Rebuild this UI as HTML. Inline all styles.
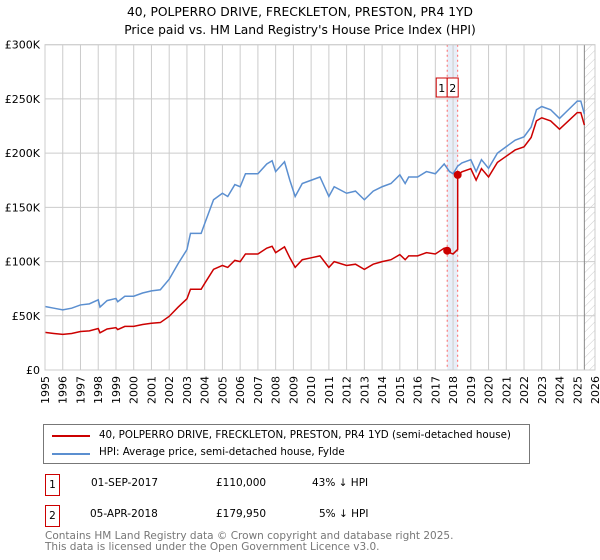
<!DOCTYPE html>
<html><head><meta charset="utf-8"><style>
body{margin:0;background:#fff;font-family:"DejaVu Sans","Liberation Sans",sans-serif;}
#wrap{position:relative;width:600px;height:560px;overflow:hidden}
.t{position:absolute;font-size:11px;color:#000;white-space:nowrap}
</style></head><body>
<div id="wrap">
<svg id="svg" width="600" height="560" style="position:absolute;left:0;top:0">
<defs><pattern id="hatch" width="6" height="6" patternUnits="userSpaceOnUse" patternTransform="rotate(45)"><line x1="0" y1="0" x2="0" y2="6" stroke="#ccc" stroke-width="1"/></pattern></defs>
<text x="300" y="16" text-anchor="middle" font-size="12.3" font-family="DejaVu Sans, sans-serif">40, POLPERRO DRIVE, FRECKLETON, PRESTON, PR4 1YD</text>
<text x="300" y="34" text-anchor="middle" font-size="12.3" font-family="DejaVu Sans, sans-serif">Price paid vs. HM Land Registry's House Price Index (HPI)</text>
<g id="plot"></g>
</svg>
<div style="position:absolute;left:43px;top:424px;width:485px;height:38px;border:1px solid #777">
 <div style="position:absolute;left:8px;top:10px;width:38px;height:2px;background:#cc0000"></div>
 <div class="t" style="left:55px;top:4px;font-size:10.3px">40, POLPERRO DRIVE, FRECKLETON, PRESTON, PR4 1YD (semi-detached house)</div>
 <div style="position:absolute;left:8px;top:28px;width:38px;height:2px;background:#5b8fd0"></div>
 <div class="t" style="left:55px;top:21px;font-size:10.3px">HPI: Average price, semi-detached house, Fylde</div>
</div>
<div style="position:absolute;left:45px;top:474px;width:13px;height:20px;border:1px solid #cc0000;font-size:10.5px;text-align:center;line-height:20px">1</div>
<div class="t" style="left:91px;top:477px;font-size:10.5px">01-SEP-2017</div>
<div class="t" style="left:216px;top:477px;font-size:10.5px">£110,000</div>
<div class="t" style="left:312px;top:477px;font-size:10.5px">43% ↓ HPI</div>
<div style="position:absolute;left:45px;top:505px;width:13px;height:20px;border:1px solid #cc0000;font-size:10.5px;text-align:center;line-height:20px">2</div>
<div class="t" style="left:90px;top:508px;font-size:10.5px">05-APR-2018</div>
<div class="t" style="left:216px;top:508px;font-size:10.5px">£179,950</div>
<div class="t" style="left:319px;top:508px;font-size:10.5px">5% ↓ HPI</div>
<div class="t" style="left:45px;top:531px;font-size:10.5px;color:#777;line-height:11px">Contains HM Land Registry data © Crown copyright and database right 2025.<br>This data is licensed under the Open Government Licence v3.0.</div>
</div>
<script>
const hpiYears=[1995,1995.5,1996,1996.5,1997,1997.5,1998,1998.1,1998.5,1999,1999.1,1999.5,2000,2000.5,2001,2001.5,2002,2002.5,2003,2003.2,2003.8,2004,2004.5,2005,2005.3,2005.7,2006,2006.3,2007,2007.5,2007.8,2008,2008.5,2008.8,2009.1,2009.3,2009.5,2010,2010.5,2011,2011.3,2012,2012.5,2013,2013.5,2014,2014.5,2015,2015.3,2015.5,2016,2016.5,2017,2017.5,2017.8,2018,2018.26,2018.5,2019,2019.3,2019.6,2020,2020.5,2021,2021.5,2022,2022.4,2022.7,2023,2023.5,2024,2024.5,2025,2025.2,2025.4];
const hpiValues=[58.6,57,55.5,57,60,61,64.7,58,64,66,63,68,68,71,73,74,83.7,98,111,126,126,135,157,163,160,171,169,181,181,190,193,183,192,175,160,166,172,175,178,160,169,163,165,157,165,169,172,180,172,178,178,183,181,190,183,181,188,191,194,183,194,186,200,206,212,215,224,240,243,240,232,240,248,248,236];
const sales=[{year:2017.67,price:110},{year:2018.26,price:179.95}];
const yTicks=[0,50,100,150,200,250,300];
const yTickLabels=['£0','£50K','£100K','£150K','£200K','£250K','£300K'];
const xTicks=[1995,1996,1997,1998,1999,2000,2001,2002,2003,2004,2005,2006,2007,2008,2009,2010,2011,2012,2013,2014,2015,2016,2017,2018,2019,2020,2021,2022,2023,2024,2025,2026];
const X0=45,X1=595,Y0=370,Y1=44.7;
const xS=y=>X0+(y-1995)/(2026-1995)*(X1-X0);
const yS=v=>Y0-(v/300)*(Y0-Y1);
const g=document.getElementById('plot');const NS='http://www.w3.org/2000/svg';
function mk(t,a,p){const e=document.createElementNS(NS,t);for(const k in a)e.setAttribute(k,a[k]);(p||g).appendChild(e);return e;}
function hpiAt(y){for(let i=0;i<hpiYears.length-1;i++){if(y>=hpiYears[i]&&y<=hpiYears[i+1]){const f=(y-hpiYears[i])/(hpiYears[i+1]-hpiYears[i]);return hpiValues[i]+f*(hpiValues[i+1]-hpiValues[i]);}}return hpiValues[hpiValues.length-1];}
let e;
e=mk('rect',{x:xS(2025.4),y:Y1,width:X1-xS(2025.4),height:Y0-Y1,fill:'url(#hatch)'});

e=mk('rect',{x:xS(sales[0].year),y:Y1,width:xS(sales[1].year)-xS(sales[0].year),height:Y0-Y1,fill:'#e8eef8'});

xTicks.forEach(t=>{const l=mk('line',{x1:xS(t),x2:xS(t),y1:Y1,y2:Y0,stroke:'#ccc'});
const tx=mk('text',{x:0,y:0,transform:`translate(${xS(t)+4},${Y0+6}) rotate(-90)`,'text-anchor':'end','font-size':'11','font-family':'DejaVu Sans, sans-serif'});tx.textContent=t;});
yTicks.forEach((t,i)=>{const l=mk('line',{x1:X0,x2:X1,y1:yS(t),y2:yS(t),stroke:'#ccc'});
const tx=mk('text',{x:X0-5,y:yS(t)+4,'text-anchor':'end','font-size':'11','font-family':'DejaVu Sans, sans-serif'});tx.textContent=yTickLabels[i];});
e=mk('line',{x1:xS(2025.4),x2:xS(2025.4),y1:Y1,y2:Y0,stroke:'#888'});
sales.forEach(s=>{const l=mk('line',{x1:xS(s.year),x2:xS(s.year),y1:Y1,y2:Y0,stroke:'#ff6666','stroke-dasharray':'2,3'});});
e=mk('polyline',{points:hpiYears.map((y,i)=>xS(y)+','+yS(hpiValues[i])).join(' '),fill:'none',stroke:'#5b8fd0','stroke-width':1.5});

const r1=sales[0].price/hpiAt(sales[0].year),r2=sales[1].price/hpiAt(sales[1].year);
const pts=[];
hpiYears.forEach((y,i)=>{if(y<sales[1].year)pts.push([y,hpiValues[i]*r1]);});
pts.push([sales[1].year,hpiAt(sales[1].year)*r1]);pts.push([sales[1].year,sales[1].price]);
hpiYears.forEach((y,i)=>{if(y>sales[1].year)pts.push([y,hpiValues[i]*r2]);});
pts.sort((a,b)=>a[0]-b[0]);
e=mk('polyline',{points:pts.map(p=>xS(p[0])+','+yS(p[1])).join(' '),fill:'none',stroke:'#cc0000','stroke-width':1.5});

sales.forEach((s,i)=>{const c=mk('circle',{cx:xS(s.year),cy:yS(s.price),r:4,fill:'#cc0000'});
const bx=xS(sales[0].year)+(i==0?-11:0);const r=mk('rect',{x:bx,y:78,width:11,height:19,fill:'#fff',stroke:'#cc0000'});
const t=mk('text',{x:bx+5.5,y:92,'text-anchor':'middle','font-size':'11','font-family':'DejaVu Sans, sans-serif'});t.textContent=String(i+1);});
e=mk('rect',{x:X0,y:Y1,width:X1-X0,height:Y0-Y1,fill:'none',stroke:'#ccc'});
</script>
</body></html>
